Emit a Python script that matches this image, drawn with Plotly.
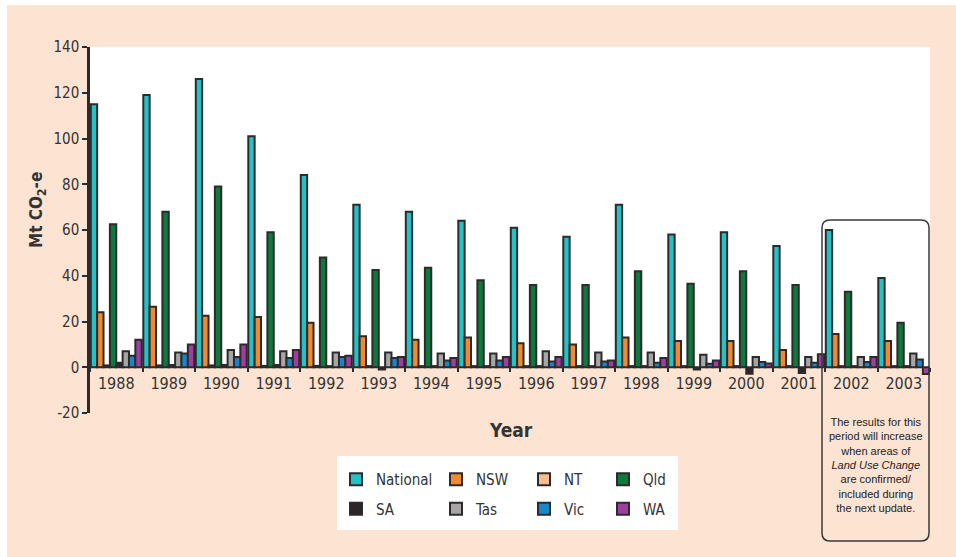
import plotly.graph_objects as go

years = [str(y) for y in range(1988, 2004)]
series_names = ["National", "NSW", "NT", "Qld", "SA", "Tas", "Vic", "WA"]

national = [115, 119, 126, 101, 84, 71, 68, 64, 61, 57, 71, 58, 59, 53, 60, 39]
nsw = [24, 26.5, 22.5, 22, 19.5, 13.5, 12, 13, 10.5, 10, 13, 11.5, 11.5, 7.5, 14.5, 11.5]
nt = [0.8, 0.8, 0.8, 0.6, 0.6, 0.5, 0.5, 0.5, 0.5, 0.5, 0.5, 0.5, 0.5, 0.5, 0.5, 0.5]
qld = [62.5, 68, 79, 59, 48, 42.5, 43.5, 38, 36, 36, 42, 36.5, 42, 36, 33, 19.5]
sa = [2, 1, 1, 1, 0.5, -1, 0.5, 0.5, 0.5, 0.5, 0.5, -1, -2.8, -2.5, 0.5, 0.5]
tas = [7, 6.5, 7.5, 7, 6.5, 6.5, 6, 6, 7, 6.5, 6.5, 5.5, 4.5, 4.5, 4.5, 6]
vic = [5, 6, 4.5, 4, 4.5, 4, 3, 3, 2.5, 2.5, 2, 1.5, 2.3, 2, 2.3, 3.4]
wa = [12, 10, 10, 7.5, 5, 4.5, 4, 4.5, 4.5, 3, 4, 3, 1.6, 5.7, 4.5, -3]

series_values = [national, nsw, nt, qld, sa, tas, vic, wa]
colors = ["#22c2c6", "#ef8a2e", "#f6bd90", "#0c7a3d", "#2b2627", "#a6a6a6", "#1688c9", "#9d3f9f"]

y_ticks = [-20, 0, 20, 40, 60, 80, 100, 120, 140]
y_tick_labels = ["-20", "0", "20", "40", "60", "80", "100", "120", "140"]
grid_ticks = [0, 20, 40, 60, 80, 100, 120, 140]

note_text = ("The results for this<br>period will increase<br>when areas of<br>"
             "<i>Land Use Change</i><br>are confirmed/<br>included during<br>the next update.")

FONT = "DejaVu Sans Condensed, Liberation Sans Narrow, sans-serif"
NOTE_FONT = "Liberation Sans, Arial, sans-serif"
PEACH = "#fde3d2"
DARK = "#2e2a2b"

# legend columns: trace index -> legend id
legend_of = {0: "legend", 4: "legend", 1: "legend2", 5: "legend2",
             2: "legend3", 6: "legend3", 3: "legend4", 7: "legend4"}

fig = go.Figure()
for i, (name, vals, col) in enumerate(zip(series_names, series_values, colors)):
    fig.add_trace(go.Bar(
        x=years, y=vals, name=name, legendgroup=name, legend=legend_of[i],
        marker=dict(color=col, line=dict(color=DARK, width=2)),
    ))

W, H = 956, 557
ml, mr, mt, mb = 90, 26, 47, 144
pw, ph = W - ml - mr, H - mt - mb

def px(x):
    return (x - ml) / pw

def py(y):
    return (H - mb - y) / ph

# rounded note box path (paper coords)
x0, x1 = px(822), px(929)
yt, yb = py(220), py(541)
rx, ry = 8 / pw, 8 / ph
path = (f"M{x0+rx},{yt} L{x1-rx},{yt} Q{x1},{yt} {x1},{yt-ry} L{x1},{yb+ry} "
        f"Q{x1},{yb} {x1-rx},{yb} L{x0+rx},{yb} Q{x0},{yb} {x0},{yb+ry} "
        f"L{x0},{yt-ry} Q{x0},{yt} {x0+rx},{yt} Z")

shapes = [
    dict(type="rect", xref="paper", yref="y", x0=0, x1=1, y0=0, y1=140,
         fillcolor="white", line=dict(width=0), layer="below"),
    dict(type="rect", xref="paper", yref="paper", x0=px(337), x1=px(678),
         y0=py(530), y1=py(456), fillcolor="white", line=dict(width=0), layer="below"),
    dict(type="path", xref="paper", yref="paper", path=path,
         line=dict(color="#3a3a3a", width=1.5), fillcolor="rgba(0,0,0,0)", layer="above"),
    dict(type="rect", xref="paper", yref="paper", x0=px(-5), x1=px(7), y0=py(600), y1=py(-5),
         fillcolor="white", line=dict(width=0), layer="above"),
    dict(type="rect", xref="paper", yref="paper", x0=px(-5), x1=px(970), y0=py(5), y1=py(-5),
         fillcolor="white", line=dict(width=0), layer="above"),
]

legend_common = dict(orientation="v", xanchor="left", yanchor="top",
                     bgcolor="rgba(0,0,0,0)", tracegroupgap=7,
                     font=dict(family=FONT, size=15, color="#333"))
leg_y = py(463)
fig.update_layout(
    width=W, height=H,
    margin=dict(l=ml, r=mr, t=mt, b=mb),
    paper_bgcolor=PEACH, plot_bgcolor=PEACH,
    barmode="group", bargap=0.03, bargroupgap=0,
    font=dict(family=FONT, size=15, color="#333"),
    xaxis=dict(type="category", range=[-0.5, 15.5], anchor="free", position=20 / 160,
               showgrid=False, showline=False, zeroline=False,
               tickson="boundaries", ticks="outside", ticklen=4, tickwidth=2, tickcolor=DARK,
               ticklabelstandoff=5,
               tickfont=dict(family=FONT, size=16, color="#333")),
    yaxis=dict(range=[-20, 140], tickvals=y_ticks, ticktext=y_tick_labels,
               showgrid=False, zeroline=False,
               showline=True, linecolor=DARK, linewidth=2.5,
               ticks="outside", ticklen=5, tickwidth=2, tickcolor=DARK,
               tickfont=dict(family=FONT, size=15, color="#333")),
    yaxis2=dict(range=[-20, 140], overlaying="y", anchor="x", side="left",
                tickvals=grid_ticks, showgrid=True, gridcolor="#555", gridwidth=1.4,
                showticklabels=False, ticks="", showline=False, zeroline=False),
    legend=dict(x=px(336), y=leg_y, **legend_common),
    legend2=dict(x=px(436), y=leg_y, **legend_common),
    legend3=dict(x=px(524), y=leg_y, **legend_common),
    legend4=dict(x=px(603), y=leg_y, **legend_common),
    shapes=shapes,
    annotations=[
        dict(text="<b>Mt CO<sub>2</sub>-e</b>", xref="paper", yref="paper",
             x=px(37), y=py(210), xanchor="center", yanchor="middle", textangle=-90,
             showarrow=False, font=dict(family=FONT, size=17, color="#333")),
        dict(text="<b>Year</b>", xref="paper", yref="paper", x=px(511), y=py(430),
             xanchor="center", yanchor="middle",
             showarrow=False, font=dict(family=FONT, size=19, color="#333")),
        dict(text=note_text, xref="paper", yref="paper", x=px(876), y=py(465),
             xanchor="center", yanchor="middle", showarrow=False, align="center",
             font=dict(family=NOTE_FONT, size=11, color="#222")),
    ],
)

fig.write_html("out.html", config={"displayModeBar": False},
               post_script="document.body.style.margin='0px';")
